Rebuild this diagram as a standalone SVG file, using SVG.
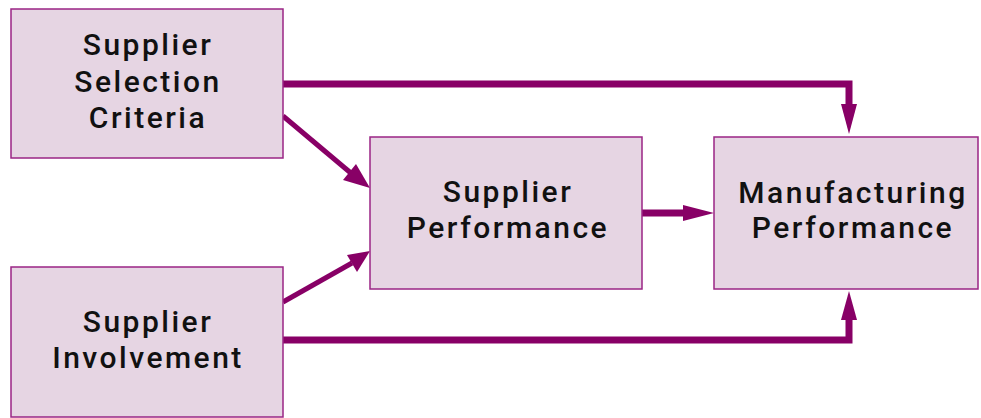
<svg xmlns="http://www.w3.org/2000/svg" width="981" height="418" viewBox="0 0 981 418">
<defs>
<style>
.box{fill:#E6D5E3;stroke:#9A2585;stroke-width:1.5}
.t{font-family:Roboto,"Liberation Sans",sans-serif;font-weight:500;font-size:30px;letter-spacing:2.5px;fill:#111;text-anchor:middle}
.c{fill:none;stroke:#880066;stroke-linejoin:miter}
.h{fill:#880066}
</style>
</defs>
<rect width="981" height="418" fill="#fff"/>
<g id="connectors">
<polyline class="c" stroke-width="7" points="283,84 849,84 849,108"/>
<polygon class="h" points="841,104 857,104 849,134"/>
<polyline class="c" stroke-width="7" points="283,340 849,340 849,316"/>
<polygon class="h" points="841,320 857,320 849,291"/>
<line class="c" stroke-width="7" x1="642" y1="213" x2="688" y2="213"/>
<polygon class="h" points="683,205 683,221 714,213"/>
<line class="c" stroke-width="5" x1="283" y1="116" x2="352" y2="174"/>
<polygon class="h" points="343,180 356,164 370,188"/>
<line class="c" stroke-width="5" x1="283" y1="302" x2="352" y2="263"/>
<polygon class="h" points="347,255 357,272 370,251"/>
</g>
<g id="n1">
<rect class="box" x="11" y="9" width="272" height="149"/>
<text class="t" x="148" y="55">Supplier</text>
<text class="t" x="148" y="92">Selection</text>
<text class="t" x="148" y="128">Criteria</text>
</g>
<g id="n2">
<rect class="box" x="370" y="137" width="272" height="152"/>
<text class="t" x="508" y="202">Supplier</text>
<text class="t" x="508" y="238">Performance</text>
</g>
<g id="n3">
<rect class="box" x="714" y="137" width="264" height="152"/>
<text class="t" x="853" y="203">Manufacturing</text>
<text class="t" x="853" y="238">Performance</text>
</g>
<g id="n4">
<rect class="box" x="11" y="267" width="272" height="150"/>
<text class="t" x="148" y="332">Supplier</text>
<text class="t" x="148" y="368">Involvement</text>
</g>
</svg>
